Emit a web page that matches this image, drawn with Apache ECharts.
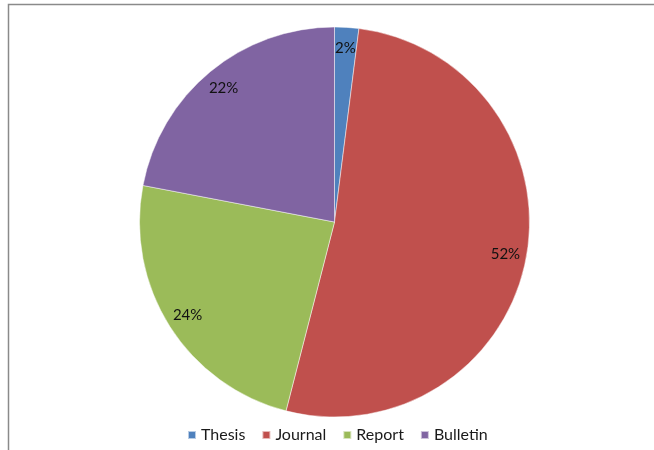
<!DOCTYPE html>
<html><head><meta charset="utf-8">
<script src="https://cdn.jsdelivr.net/npm/echarts@6/dist/echarts.min.js"></script>
<style>html,body{margin:0;padding:0;background:#fff}#c{width:654px;height:450px}</style>
</head><body><div id="c"></div>
<script>
const categories = ['Thesis', 'Journal', 'Report', 'Bulletin'];
const values = [2, 52, 24, 22];
const colors = ['#4F81BD', '#C0504D', '#9BBB59', '#8064A2'];

const data = categories.map((n, i) => ({ name: n, value: values[i], itemStyle: { color: colors[i] } }));
const chart = echarts.init(document.getElementById('c'), null, { renderer: 'canvas' });
const font = 'Lato, "Open Sans", sans-serif';
chart.setOption({
  animation: false,
  graphic: [{ type: 'rect', shape: { x: 8.5, y: 4.5, width: 700, height: 500 }, style: { fill: 'none', stroke: '#8a8a8a', lineWidth: 1.5 }, silent: true }],
  legend: {
    data: categories, bottom: 2, left: 182, itemWidth: 8, itemHeight: 8, itemGap: 16,
    icon: 'rect', textStyle: { fontFamily: font, fontSize: 16, color: '#1a1a1a', padding: [0, 0, 0, 0] }
  },
  series: [
    {
      type: 'pie', center: [334.5, 222], radius: [0, 195], startAngle: 90, clockwise: true,
      data: data, label: { show: false }, labelLine: { show: false },
      itemStyle: { borderColor: 'rgba(255,255,255,0.6)', borderWidth: 0.8 }, silent: true
    },
    {
      type: 'pie', center: [334.5, 222], radius: [147, 195], startAngle: 90, clockwise: true,
      data: categories.map((n, i) => ({ name: n, value: values[i] })),
      itemStyle: { color: 'rgba(0,0,0,0)' }, silent: true, legendHoverLink: false,
      label: { show: true, position: 'inside', formatter: '{c}%', fontFamily: font, fontSize: 15, color: '#111' },
      labelLine: { show: false }
    }
  ]
});
</script></body></html>
